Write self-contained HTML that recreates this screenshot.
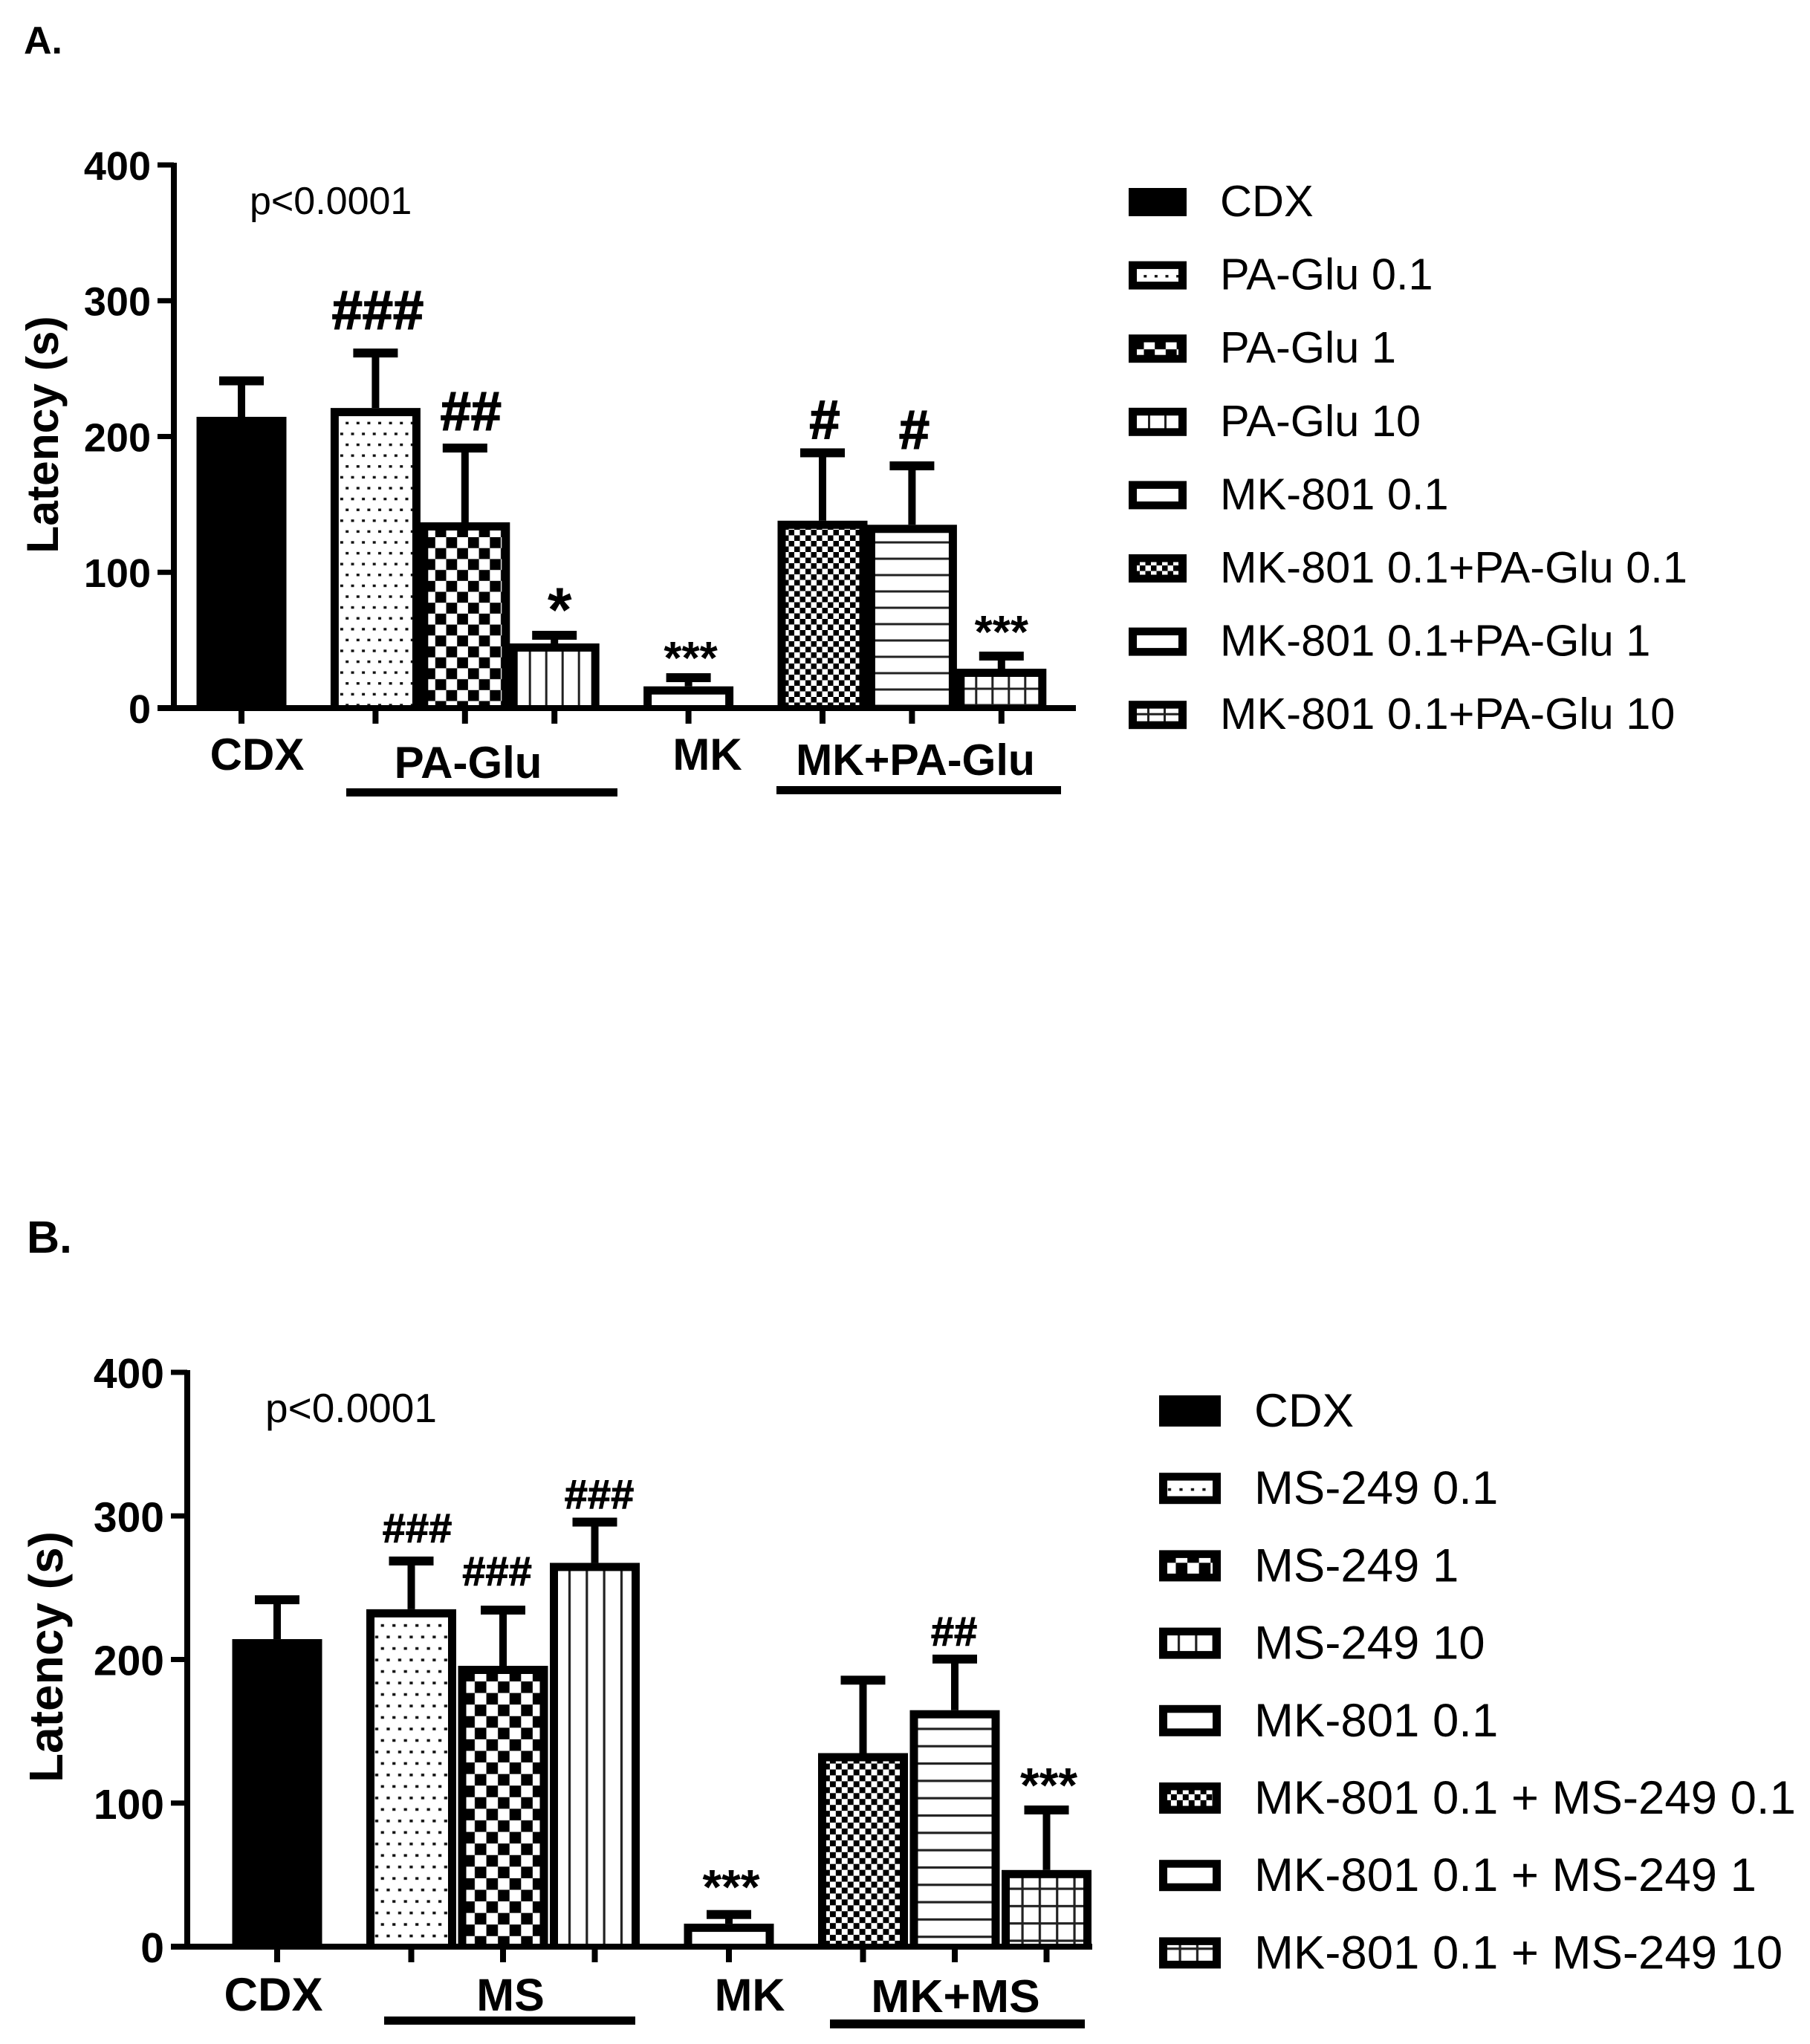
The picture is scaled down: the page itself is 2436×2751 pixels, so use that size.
<!DOCTYPE html>
<html lang="en">
<head>
<meta charset="utf-8">
<title>Latency bar charts</title>
<style>
html,body{margin:0;padding:0;background:#fff}
svg{display:block}
text{font-family:"Liberation Sans",Arial,sans-serif;fill:#000}
</style>
</head>
<body>
<svg id="figure" xmlns="http://www.w3.org/2000/svg" width="2436" height="2751" viewBox="0 0 2436 2751">
<rect width="2436" height="2751" fill="#fff"/>
<defs id="defs"></defs>
<g id="panel-a">
<text x="32" y="72" font-size="52" font-weight="bold">A.</text>
<text x="336" y="288" font-size="52">p&lt;0.0001</text>
<text transform="translate(78,585) rotate(-90)" font-size="60.5" font-weight="bold" text-anchor="middle">Latency (s)</text>
<text x="346" y="1036" font-size="60" font-weight="bold" text-anchor="middle">CDX</text>
<text x="630" y="1047" font-size="60" font-weight="bold" text-anchor="middle">PA-Glu</text>
<text x="952" y="1036" font-size="60" font-weight="bold" text-anchor="middle">MK</text>
<text x="1232" y="1043" font-size="59" font-weight="bold" text-anchor="middle">MK+PA-Glu</text>
<rect x="466" y="1061" width="365" height="11" fill="#000"/>
<rect x="1045" y="1058" width="383" height="11" fill="#000"/>
</g>
<g id="panel-b">
<text x="36" y="1686" font-size="61" font-weight="bold">B.</text>
<text x="357" y="1914" font-size="55">p&lt;0.0001</text>
<text transform="translate(84,2230) rotate(-90)" font-size="64" font-weight="bold" text-anchor="middle">Latency (s)</text>
<text x="368" y="2706" font-size="63" font-weight="bold" text-anchor="middle">CDX</text>
<text x="687" y="2706" font-size="61" font-weight="bold" text-anchor="middle">MS</text>
<text x="1009" y="2706" font-size="61" font-weight="bold" text-anchor="middle">MK</text>
<text x="1286" y="2708" font-size="62.5" font-weight="bold" text-anchor="middle">MK+MS</text>
<rect x="517" y="2714" width="338" height="11" fill="#000"/>
<rect x="1117" y="2718" width="343" height="12" fill="#000"/>
</g>
</svg>
<script>
// ---- data, panel A ----
const fillsA = ['solid','dots','checker','vlines','blank','fine','hlines','grid'];
const groupIndexA = [0,1,1,1,2,3,3,3];
const yTicksA = [0,100,200,300,400];
const meansA = [214.5,221,136.8,47.6,16,138,135,29];
const errTopsA = [241,261.5,191.5,53.6,22.4,188,178.4,38.3];
const sigA = ['','###','##','*','***','#','#','***'];
const legendA = ['CDX','PA-Glu 0.1','PA-Glu 1','PA-Glu 10','MK-801 0.1','MK-801 0.1+PA-Glu 0.1','MK-801 0.1+PA-Glu 1','MK-801 0.1+PA-Glu 10'];
// ---- data, panel B ----
const fillsB = ['solid','dots','checker','vlines','blank','fine','hlines','grid'];
const groupIndexB = [0,1,1,1,2,3,3,3];
const yTicksB = [0,100,200,300,400];
const meansB = [214.2,235,195.6,267.3,16,134.8,164.7,53.4];
const errTopsB = [241.6,268.6,234.4,295.7,22.4,185.6,200.3,95.2];
const sigB = ['','###','###','###','***','','##','***'];
const legendB = ['CDX','MS-249 0.1','MS-249 1','MS-249 10','MK-801 0.1','MK-801 0.1 + MS-249 0.1','MK-801 0.1 + MS-249 1','MK-801 0.1 + MS-249 10'];

const NS = 'http://www.w3.org/2000/svg';
function mk(parent, tag, attrs, txt) {
  const el = document.createElementNS(NS, tag);
  for (const k in attrs) el.setAttribute(k, attrs[k]);
  if (txt !== undefined) el.textContent = txt;
  parent.appendChild(el);
  return el;
}
const defs = document.getElementById('defs');
function definePatterns(sfx, s, ph) {
  const xf = (dx, dy) => 'scale(' + s + ') translate(' + dx + ',' + dy + ')';
  let p = mk(defs, 'pattern', {id:'dots' + sfx, patternUnits:'userSpaceOnUse', width:14.6, height:29.2, patternTransform:xf(ph.dots[0], ph.dots[1])});
  mk(p, 'rect', {x:0, y:0, width:14.6, height:29.2, fill:'#fff'});
  mk(p, 'rect', {x:0, y:0, width:2, height:1.7, fill:'#111'});
  mk(p, 'rect', {x:12.6, y:0, width:2, height:1.7, fill:'#111'});
  mk(p, 'rect', {x:0, y:27.5, width:2, height:1.7, fill:'#111'});
  mk(p, 'rect', {x:12.6, y:27.5, width:2, height:1.7, fill:'#111'});
  mk(p, 'rect', {x:5.3, y:12.9, width:4, height:3.4, fill:'#111'});
  p = mk(defs, 'pattern', {id:'checker' + sfx, patternUnits:'userSpaceOnUse', width:29.4, height:29.4, patternTransform:xf(ph.checker[0], ph.checker[1])});
  mk(p, 'rect', {x:0, y:0, width:29.4, height:29.4, fill:'#fff'});
  mk(p, 'rect', {x:0, y:0, width:14.7, height:14.7, fill:'#000'});
  mk(p, 'rect', {x:14.7, y:14.7, width:14.7, height:14.7, fill:'#000'});
  p = mk(defs, 'pattern', {id:'fine' + sfx, patternUnits:'userSpaceOnUse', width:15, height:15, patternTransform:xf(0, 0)});
  mk(p, 'rect', {x:0, y:0, width:15, height:15, fill:'#fff'});
  mk(p, 'rect', {x:0, y:0, width:7.5, height:7.5, fill:'#000'});
  mk(p, 'rect', {x:7.5, y:7.5, width:7.5, height:7.5, fill:'#000'});
  p = mk(defs, 'pattern', {id:'vlines' + sfx, patternUnits:'userSpaceOnUse', width:22, height:22, patternTransform:xf(ph.vlines, 0)});
  mk(p, 'rect', {x:0, y:0, width:22, height:22, fill:'#fff'});
  mk(p, 'rect', {x:0, y:0, width:3, height:22, fill:'#222'});
  p = mk(defs, 'pattern', {id:'hlines' + sfx, patternUnits:'userSpaceOnUse', width:22, height:22, patternTransform:xf(0, ph.hlines)});
  mk(p, 'rect', {x:0, y:0, width:22, height:22, fill:'#fff'});
  mk(p, 'rect', {x:0, y:0, width:22, height:3, fill:'#222'});
  p = mk(defs, 'pattern', {id:'grid' + sfx, patternUnits:'userSpaceOnUse', width:22, height:22, patternTransform:xf(ph.grid[0], ph.grid[1])});
  mk(p, 'rect', {x:0, y:0, width:22, height:22, fill:'#fff'});
  mk(p, 'rect', {x:0, y:0, width:3, height:22, fill:'#222'});
  mk(p, 'rect', {x:0, y:0, width:22, height:3, fill:'#222'});
}
definePatterns('A', 1, {dots:[0.4,10.6], checker:[5.8,5.2], vlines:4, hlines:17.5, grid:[3,16.5]});
definePatterns('B', 1.06, {dots:[5.9,1], checker:[6.5,1.3], vlines:1.5, hlines:8, grid:[3,13]});

function slug(s) { return s.toLowerCase().replace(/[^a-z0-9]+/g, '-').replace(/^-|-$/g, ''); }

function drawBars(cfg) {
  const root = document.getElementById(cfg.root);
  const yScale = v => cfg.y0 - v * cfg.pxPerUnit;
  const xScale = i => cfg.x0 + cfg.step * i + cfg.gap * cfg.groups[i];

  // error bars
  cfg.errs.forEach((top, i) => {
    const cx = xScale(i);
    const g = mk(root, 'g', {});
    
    
    mk(g, 'rect', {x:cx - 5, y:yScale(top), width:10, height:Math.max(0, yScale(cfg.means[i]) - yScale(top)), fill:'#000'});
    mk(g, 'rect', {x:cx - 30, y:yScale(top) - 6, width:60, height:12, fill:'#000'});
  });

  // bars (later bars overlap earlier ones)
  cfg.means.forEach((v, i) => {
    const left = xScale(i) - cfg.barW / 2;
    const g = mk(root, 'g', {transform:'translate(' + left + ',' + cfg.y0 + ')'});
    
    
    const h = cfg.y0 - yScale(v);
    mk(g, 'rect', {x:0, y:-h, width:cfg.barW, height:h, fill:'#000'});
    if (cfg.fills[i] !== 'solid') {
      const fill = cfg.fills[i] === 'blank' ? '#fff' : 'url(#' + cfg.fills[i] + cfg.sfx + ')';
      mk(g, 'rect', {x:cfg.border, y:-h + cfg.border, width:cfg.barW - 2 * cfg.border, height:Math.max(0, h - cfg.border), fill:fill});
    }
  });

  // axes
  const yAxis = mk(root, 'rect', {x:cfg.axisX - 4, y:yScale(400) - 3, width:8, height:cfg.y0 - yScale(400) + 7, fill:'#000'});
  
  
  const xAxis = mk(root, 'rect', {x:cfg.axisX - 22, y:cfg.y0 - 4, width:cfg.axisEnd - cfg.axisX + 22, height:8, fill:'#000'});
  
  

  cfg.yTicks.forEach(t => {
    const tick = mk(root, 'rect', {x:cfg.axisX - 22, y:yScale(t) - 3.5, width:22, height:7, fill:'#000'});
    
    
    const lab = mk(root, 'text', {x:cfg.axisX - 31, y:yScale(t) + cfg.tickFs * 0.37, 'font-size':cfg.tickFs, 'font-weight':'bold', 'text-anchor':'end'}, String(t));
    
    
  });
  cfg.means.forEach((v, i) => {
    const tick = mk(root, 'rect', {x:xScale(i) - 4, y:cfg.y0, width:8, height:21, fill:'#000'});
    
    
  });

  // significance marks sit a fixed gap above each error bar
  cfg.sig.forEach((s, i) => {
    if (!s) return;
    const star = s[0] === '*';
    const fs = star ? (s.length === 1 ? cfg.starOneFs : cfg.starFs) : cfg.hashFs;
    const bottom = yScale(cfg.errs[i]) - cfg.sigGap[i];
    const base = star ? bottom + fs * 0.42 : bottom;
    const t = mk(root, 'text', {x:xScale(i) + cfg.sigDx[i], y:base, 'font-size':fs, 'font-weight':'bold', 'text-anchor':'middle'}, s);
    if (!star) { t.setAttribute('stroke', '#000'); t.setAttribute('stroke-width', cfg.hashStroke); }
    
    
  });

  // legend
  cfg.legend.forEach((label, i) => {
    const y = cfg.legY + cfg.legPitch * i;
    const g = mk(root, 'g', {});
    
    
    const sw = mk(g, 'g', {transform:'translate(' + cfg.legX + ',' + y + ')'});
    
    
    mk(sw, 'rect', {x:0, y:0, width:cfg.legW, height:cfg.legH, fill:'#000'});
    if (cfg.fills[i] !== 'solid') {
      // the small swatch window falls between the horizontal rules, so it reads as plain white
      const plain = cfg.fills[i] === 'blank' || cfg.fills[i] === 'hlines';
      const fill = plain ? '#fff' : 'url(#' + cfg.fills[i] + cfg.sfx + ')';
      const shift = cfg.fills[i] === 'dots' ? cfg.legDotShift : 0;
      const inner = mk(sw, 'g', {transform:'translate(0,' + shift + ')'});
      mk(inner, 'rect', {x:11, y:10.5 - shift, width:cfg.legW - 22, height:cfg.legH - 21, fill:fill});
    }
    const tx = mk(g, 'text', {x:cfg.legTextX, y:y + cfg.legH, 'font-size':cfg.legFs}, label);
    
    
  });
}

drawBars({
  root:'panel-a', sfx:'A',
  means:meansA, errs:errTopsA, fills:fillsA, groups:groupIndexA, yTicks:yTicksA, sig:sigA, legend:legendA,
  y0:953, pxPerUnit:1.8275, x0:325, step:120.4, gap:60, barW:121, border:11,
  axisX:234, axisEnd:1448, tickFs:54,
  hashFs:74, hashStroke:1.5, starFs:62, starOneFs:84,
  sigGap:[0,32,24,41,31,19,23,37], sigDx:[0,3,8,7,3,3,3,0],
  legX:1519, legY:253, legPitch:98.6, legW:78, legH:38, legTextX:1642, legFs:59.5, legDotShift:-5
});
drawBars({
  root:'panel-b', sfx:'B',
  means:meansB, errs:errTopsB, fills:fillsB, groups:groupIndexB, yTicks:yTicksB, sig:sigB, legend:legendB,
  y0:2620, pxPerUnit:1.9325, x0:373, step:123.5, gap:57, barW:121, border:11,
  axisX:252, axisEnd:1470, tickFs:57,
  hashFs:56, hashStroke:1, starFs:66, starOneFs:66,
  sigGap:[0,25,33,18,42,0,18,38], sigDx:[0,8,-8,6,3,0,-1,3],
  legX:1560, legY:1878, legPitch:104.2, legW:83, legH:42, legTextX:1688, legFs:63.5, legDotShift:6
});
</script>
</body>
</html>
